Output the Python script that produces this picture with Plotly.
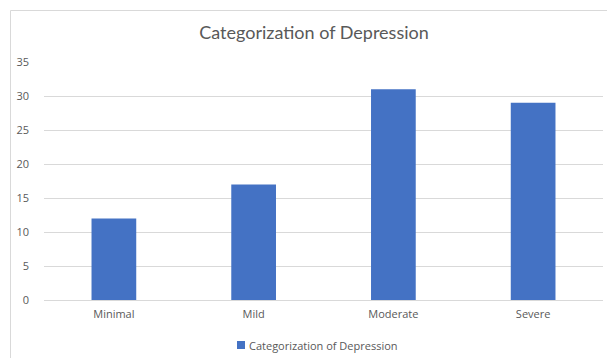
import plotly.graph_objects as go

categories = ["Minimal", "Mild", "Moderate", "Severe"]
counts = [12, 17, 31, 29]
series_name = "Categorization of Depression"
y_ticks = [0, 5, 10, 15, 20, 25, 30, 35]

W, H = 607, 358
L, R, T, B = 44, 4, 62, 58
plot_w = W - L - R
plot_h = H - T - B

bar_color = "#4472C4"
text_color = "#595959"
grid_color = "#d9d9d9"


def px_x(px):
    """Pixel column -> paper x."""
    return (px - L) / plot_w


def px_y(py):
    """Pixel row -> paper y."""
    return (H - B - py) / plot_h


fig = go.Figure()
fig.add_trace(go.Bar(
    x=categories,
    y=counts,
    name=series_name,
    marker=dict(color=bar_color, line=dict(width=0)),
    showlegend=False,
))

# Thin chart-area frame on the left and top edges
fig.add_shape(type="line", xref="paper", yref="paper",
              x0=px_x(10.5), x1=px_x(10.5), y0=px_y(360), y1=px_y(10.5),
              line=dict(color=grid_color, width=1))
fig.add_shape(type="line", xref="paper", yref="paper",
              x0=px_x(10.5), x1=px_x(W + 5), y0=px_y(10.5), y1=px_y(10.5),
              line=dict(color=grid_color, width=1))

# Legend key below the axis: small square swatch plus series name
fig.add_shape(type="rect", xref="paper", yref="paper",
              x0=px_x(237), x1=px_x(245), y0=px_y(349), y1=px_y(341),
              fillcolor=bar_color, line=dict(width=0))
fig.add_annotation(
    text=series_name, xref="paper", yref="paper",
    x=px_x(247), y=px_y(345), xanchor="left", yanchor="middle",
    showarrow=False,
    font=dict(family="Open Sans", size=11, color=text_color),
)

fig.update_layout(
    width=W, height=H,
    margin=dict(l=L, r=R, t=T, b=B),
    paper_bgcolor="white",
    plot_bgcolor="white",
    bargap=0.68,
    showlegend=False,
    title=dict(
        text=series_name,
        font=dict(family="Lato", size=18, color=text_color),
        x=314 / W, xref="container", xanchor="center",
        y=1 - 33 / H, yref="container", yanchor="middle",
    ),
    xaxis=dict(
        showgrid=False,
        showline=True, linecolor=grid_color, linewidth=1,
        ticks="", tickfont=dict(family="Open Sans", size=11, color=text_color),
        ticklabelstandoff=4,
    ),
    yaxis=dict(
        range=[0, 35],
        tickvals=y_ticks,
        showgrid=True, gridcolor=grid_color, gridwidth=1,
        zeroline=False, showline=False, ticks="",
        tickfont=dict(family="Open Sans", size=11, color=text_color),
        ticklabelstandoff=14,
    ),
)

fig.write_html("out.html")
